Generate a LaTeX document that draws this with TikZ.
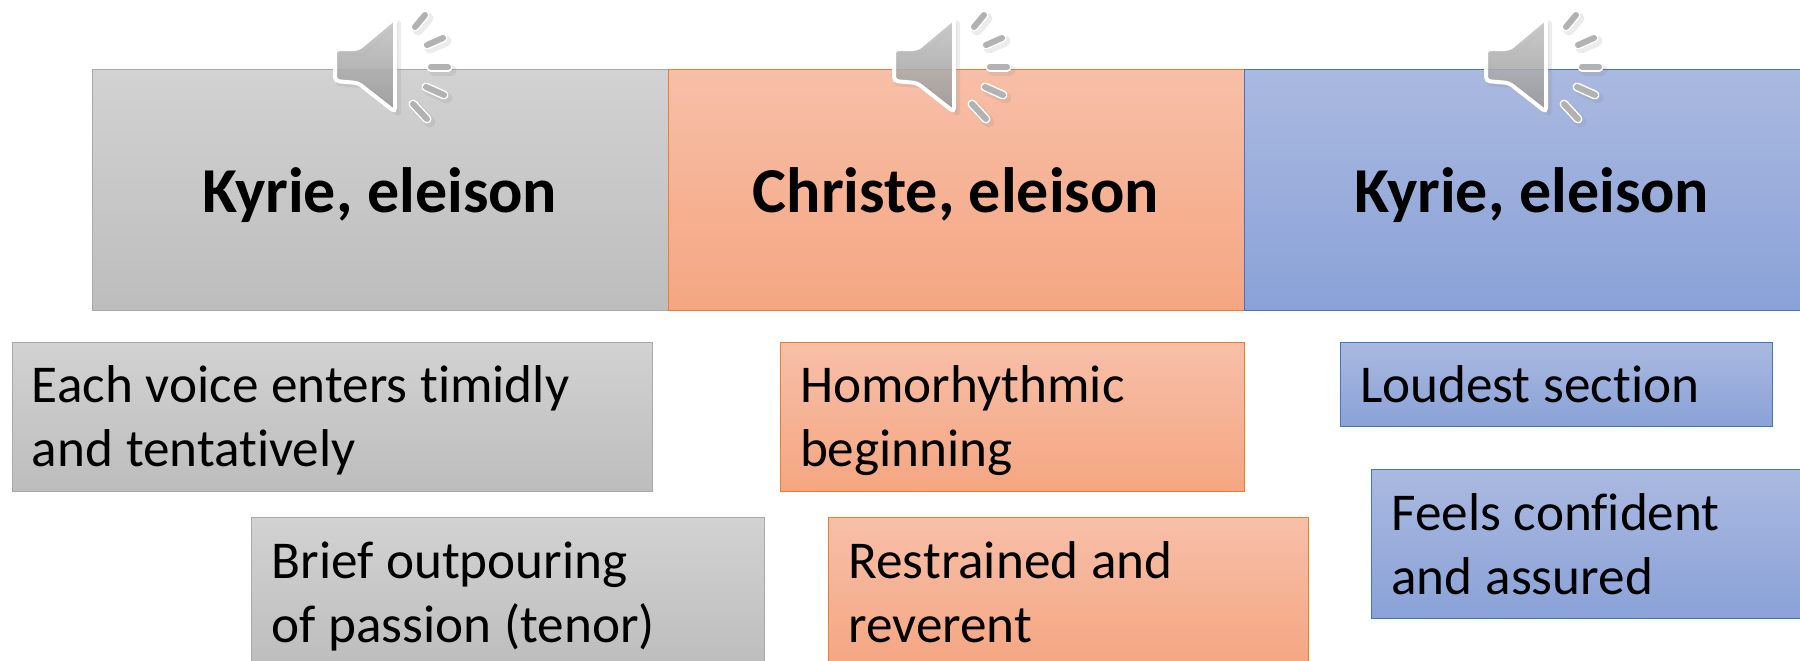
\documentclass[tikz,border=0pt]{standalone}
\usepackage{fontspec}
\setmainfont[Ligatures=CommonOff]{Carlito}
\definecolor{GrayLine}{HTML}{A9A9A9}
\definecolor{GrayTop}{HTML}{D2D2D2}
\definecolor{GrayEnd}{HTML}{BDBDBD}
\definecolor{OrangeLine}{HTML}{ED7D31}
\definecolor{OrangeTop}{HTML}{F7BFA8}
\definecolor{OrangeEnd}{HTML}{F5A681}
\definecolor{BlueLine}{HTML}{4472C4}
\definecolor{BlueTop}{HTML}{AAB9E0}
\definecolor{BlueEnd}{HTML}{8AA2D8}
\newcommand{\linestrut}{\rule[-7pt]{0pt}{32pt}}

\begin{document}
\begin{tikzpicture}[x=0.5pt, y=-0.5pt,
  grayfill/.style={draw=GrayLine, top color=GrayTop, bottom color=GrayEnd},
  orangefill/.style={draw=OrangeLine, top color=OrangeTop, bottom color=OrangeEnd},
  bluefill/.style={draw=BlueLine, top color=BlueTop, bottom color=BlueEnd},
  sec/.style={line width=0.5pt, minimum width=288pt, minimum height=120.5pt, inner sep=0pt,
    text height=27pt, text depth=3.6pt, font=\fontsize{32}{36}\selectfont\bfseries},
  note/.style={line width=0.5pt, text width=#1, inner xsep=10pt, inner ysep=0pt, align=left,
    minimum height=74.5pt, font=\fontsize{26.6}{32}\selectfont,
    execute at begin node={\spaceskip=.24em\linestrut}, execute at end node=\linestrut},
  speaker/.pic={
    % shadow first, then the white rim, then the gray body
    \draw[line width=3pt, line join=round, gray, opacity=0.15, fill=gray]
      (39,53) -- (62,53) -- (98,23) -- (98,113) -- (62,85) -- (39,83) -- cycle;
    \draw[line width=2pt, rounded corners=2pt, white, top color=gray!45, bottom color=gray!80, fill opacity=0.85]
      (35,49) -- (58,49) -- (95,18) -- (95,112) -- (58,83) -- (35,81) -- cycle;
    \foreach \xa/\ya/\xb/\yb in {115/27/125/15, 127/45/143/38, 131/67/148/67, 126/87/144/95, 113/104/127/119} {
      \draw[line width=5.5pt, line cap=round, gray, opacity=0.15] (\xa+3,\ya+3) -- (\xb+3,\yb+3);
      \draw[line width=4.5pt, line cap=round, white] (\xa,\ya) -- (\xb,\yb);
      \draw[line width=3pt, line cap=round, gray!60] (\xa,\ya) -- (\xb,\yb);
    }
  },
]
\clip (0,0) rectangle (1800,660);
\node[sec, grayfill]   (kyrie1)  at (380,189.5)  {Kyrie, eleison};
\node[sec, orangefill] (christe) at (956,189.5)  {Christe, eleison};
\node[sec, bluefill]   (kyrie2)  at (1532,189.5) {Kyrie, eleison};

\node[note=300pt, grayfill]   (voice)      at (332,416.5)  {Each voice enters timidly\\and tentatively};
\node[note=236.5pt, grayfill] (passion)    at (508,592)    {Brief outpouring\\of passion (tenor)};
\node[note=212pt, orangefill] (homo)       at (1012,416.5) {Homorhythmic\\beginning};
\node[note=220pt, orangefill] (restrained) at (1068.5,592) {Restrained and\\reverent};
\node[note=196pt, minimum height=42pt, bluefill] (loudest) at (1556,384) {Loudest section};
\node[note=214pt, bluefill]   (confident)  at (1605.5,544) {Feels confident\\and assured};

\pic at (300,0) {speaker};
\pic at (859,0) {speaker};
\pic at (1451,0) {speaker};
\end{tikzpicture}
\end{document}
